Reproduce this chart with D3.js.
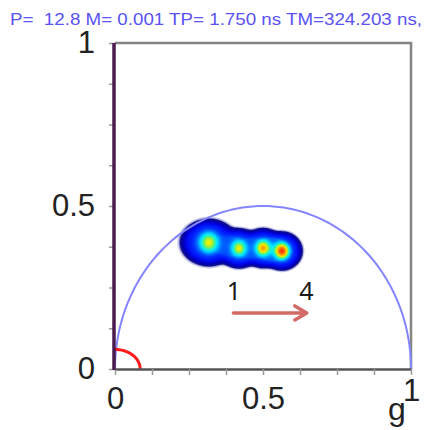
<!DOCTYPE html>
<html>
<head>
<meta charset="utf-8">
<script src="https://cdn.jsdelivr.net/npm/d3@7"></script>
<style>
  body { margin: 0; background: #fff; }
  svg { display: block; }
</style>
</head>
<body>
<div class="chart"></div>
<script>
// Header and tick values
const title = "P=  12.8 M= 0.001 TP= 1.750 ns TM=324.203 ns,";
const ticks = [0, 0.125, 0.25, 0.375, 0.5, 0.625, 0.75, 0.875, 1];
const labelledTicks = [0, 0.5, 1];

// Phasor clusters (g, s)
const clusterX = [0.317, 0.419, 0.500, 0.564];
const clusterY = [0.388, 0.370, 0.371, 0.362];
const peakHeight = [0.39, 0.39, 0.47, 0.57];
const peakSigma = [0.025, 0.020, 0.019, 0.019];
const spreadHeight = 0.32;
const spreadX = [0.056, 0.042, 0.040, 0.040];
const spreadY = [0.041, 0.035, 0.035, 0.034];

// Annotation: labels "1" → "4" and the arrow below them
const arrowLabels = ["1", "4"];
const arrowLabelX = [0.402, 0.647];
const arrowLabelY = 0.212;
const arrowX = [0.40, 0.648];
const arrowY = 0.172;

const width = 425, height = 430;

const svg = d3.select(".chart")
    .append("svg")
    .attr("width", width)
    .attr("height", height);

const x = d3.scaleLinear().domain([0, 1]).range([115, 411]);
const y = d3.scaleLinear().domain([0, 1]).range([369, 43]);

// Title line
svg.append("text")
    .attr("x", 10)
    .attr("y", 25)
    .attr("textLength", 412)
    .attr("lengthAdjust", "spacingAndGlyphs")
    .style("white-space", "pre")
    .style("font-family", "'Liberation Sans', Arial, sans-serif")
    .style("font-size", "16px")
    .attr("fill", "#5a52f2")
    .text(title);

// Plot frame (top and right)
svg.append("path")
    .attr("d", `M${x(0)},${y(1)}H${x(1)}V${y(0)}`)
    .attr("fill", "none")
    .attr("stroke", "#858585")
    .attr("stroke-width", 2.5);

// Density cloud: flat-topped spread (smooth union of clusters) plus a peak per
// cluster, computed on a pixel grid and drawn as filled contours
const gx0 = 165, gy0 = 205, cols = 160, rows = 85;
const values = new Array(cols * rows);
for (let j = 0; j < rows; j++) {
    for (let i = 0; i < cols; i++) {
        const g = x.invert(gx0 + i + 0.5);
        const s = y.invert(gy0 + j + 0.5);
        let base = 0, peaks = 0;
        for (let k = 0; k < clusterX.length; k++) {
            const dx = g - clusterX[k], dy = s - clusterY[k];
            const q = (dx * dx) / (2 * spreadX[k] ** 2) + (dy * dy) / (2 * spreadY[k] ** 2);
            base += Math.exp(-q * q);
            peaks += peakHeight[k] * Math.exp(-(dx * dx + dy * dy) / (2 * peakSigma[k] ** 2));
        }
        values[i + j * cols] = spreadHeight * Math.min(1, base) + peaks;
    }
}

const jet = d3.scaleLinear()
    .domain([0.02, 0.07, 0.14, 0.30, 0.40, 0.48, 0.54, 0.62, 0.70, 0.80, 0.90, 1.0])
    .range(["#141488", "#0000b4", "#0008f0", "#0030ff", "#0070ff", "#00c0ff", "#00f0ff",
            "#60f070", "#f0f000", "#ff9000", "#ff2000", "#c80000"])
    .clamp(true);

const levels = [0.012, 0.022].concat(d3.range(0.03, 1.0, 0.012));
const contours = d3.contours().size([cols, rows]).thresholds(levels)(values);

svg.append("g")
    .attr("transform", `translate(${gx0},${gy0})`)
    .selectAll("path")
    .data(contours)
    .enter()
    .append("path")
    .attr("d", d3.geoPath())
    .attr("fill", d => d.value < 0.03 ? "#3a3aa8" : jet(d.value))
    .attr("fill-opacity", d => d.value < 0.015 ? 0.25 : d.value < 0.03 ? 0.5 : 1);

// Universal semicircle
const semi = d3.range(0, 181, 2).map(a => {
    const t = a * Math.PI / 180;
    return [0.5 + 0.5 * Math.cos(t), 0.5 * Math.sin(t)];
});
svg.append("path")
    .attr("d", d3.line().x(d => x(d[0])).y(d => y(d[1]))(semi))
    .attr("fill", "none")
    .attr("stroke", "#8585ff")
    .attr("stroke-width", 2);

// Small red arc at the origin
const arc = d3.range(0, 91, 3).map(a => {
    const t = a * Math.PI / 180;
    return [0.085 * Math.cos(t), 0.06 * Math.sin(t)];
});
svg.append("path")
    .attr("d", d3.line().x(d => x(d[0])).y(d => y(d[1]))(arc))
    .attr("fill", "none")
    .attr("stroke", "#ff1a1a")
    .attr("stroke-width", 3);

// Axes
const fmt = d => labelledTicks.includes(d) ? d3.format("")(d) : "";

const yAxis = svg.append("g")
    .attr("transform", `translate(${x(0)},0)`)
    .call(d3.axisLeft(y).tickValues(ticks).tickSize(6).tickSizeOuter(0).tickPadding(14).tickFormat(fmt));
yAxis.select(".domain").remove();

const xAxis = svg.append("g")
    .attr("transform", `translate(0,${y(0)})`)
    .call(d3.axisBottom(x).tickValues(ticks).tickSize(6).tickSizeOuter(0).tickPadding(12).tickFormat(fmt));
xAxis.select(".domain")
    .attr("stroke", "#555")
    .attr("stroke-width", 2.5);

svg.selectAll(".tick line")
    .attr("stroke", "#9a9a9a")
    .attr("stroke-width", 1.5);

svg.selectAll(".tick text")
    .style("font-family", "'Liberation Sans', Arial, sans-serif")
    .style("font-size", "31px")
    .attr("fill", "#222");

xAxis.selectAll(".tick text")
    .filter(d => d === 1)
    .attr("y", 10);

// Left axis line in dark purple
svg.append("line")
    .attr("x1", x(0) - 1).attr("x2", x(0) - 1)
    .attr("y1", y(1)).attr("y2", y(0) + 1)
    .attr("stroke", "#4a1b4c")
    .attr("stroke-width", 3.5);

// Axis title
svg.append("text")
    .attr("x", 397)
    .attr("y", 420)
    .attr("text-anchor", "middle")
    .style("font-family", "'Liberation Sans', Arial, sans-serif")
    .style("font-size", "32px")
    .attr("fill", "#222")
    .text("g");

// Annotation
svg.selectAll(".arrow-label")
    .data(arrowLabels)
    .enter()
    .append("text")
    .attr("class", "arrow-label")
    .attr("x", (d, i) => x(arrowLabelX[i]))
    .attr("y", y(arrowLabelY))
    .attr("text-anchor", "middle")
    .style("font-family", "'Noto Sans', 'Open Sans', sans-serif")
    .style("font-size", "25px")
    .attr("fill", "#1a1a1a")
    .text(d => d);

const ax1 = x(arrowX[0]), ax2 = x(arrowX[1]), ay = y(arrowY);
svg.append("path")
    .attr("d", `M${ax1},${ay}H${ax2 - 2}M${ax2 - 12},${ay - 7}L${ax2},${ay}L${ax2 - 12},${ay + 7}`)
    .attr("fill", "none")
    .attr("stroke", "#d46a66")
    .attr("stroke-width", 3.5)
    .attr("stroke-linecap", "round")
    .attr("stroke-linejoin", "round");
</script>
</body>
</html>
